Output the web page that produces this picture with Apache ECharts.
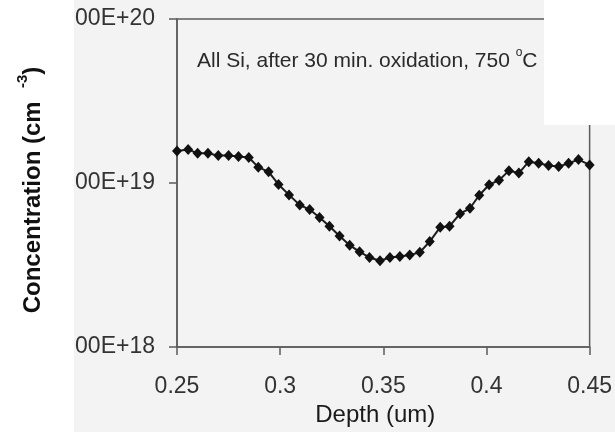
<!DOCTYPE html>
<html><head><meta charset="utf-8">
<script src="https://cdn.jsdelivr.net/npm/echarts@6/dist/echarts.min.js"></script>
<style>html,body{margin:0;padding:0;background:#fff}#c{width:615px;height:432px}</style>
</head><body><div id="c"></div>
<script>
// Depth (um) of each measured point
const depth = [0.2500, 0.2554, 0.2600, 0.2650, 0.2700, 0.2750, 0.2798, 0.2848, 0.2894, 0.2944,
               0.2992, 0.3043, 0.3095, 0.3143, 0.3191, 0.3239, 0.3288, 0.3337, 0.3385, 0.3433,
               0.3484, 0.3532, 0.3580, 0.3628, 0.3677, 0.3725, 0.3776, 0.3821, 0.3872, 0.3920,
               0.3965, 0.4013, 0.4061, 0.4109, 0.4157, 0.4205, 0.4253, 0.4301, 0.4350, 0.4398,
               0.4446, 0.4500];
// Concentration (cm^-3)
const concentration = [1.57e19, 1.60e19, 1.52e19, 1.52e19, 1.47e19, 1.47e19, 1.45e19, 1.43e19, 1.25e19, 1.17e19,
                       9.8e18, 8.47e18, 7.35e18, 6.89e18, 6.17e18, 5.46e18, 4.75e18, 4.18e18, 3.81e18, 3.52e18,
                       3.36e18, 3.52e18, 3.57e18, 3.64e18, 3.78e18, 4.40e18, 5.38e18, 5.46e18, 6.50e18, 7.02e18,
                       8.43e18, 9.77e18, 1.04e19, 1.19e19, 1.15e19, 1.35e19, 1.32e19, 1.28e19, 1.26e19, 1.32e19,
                       1.39e19, 1.29e19];
const xTickLabels = ['0.25', '0.3', '0.35', '0.4', '0.45'];
const yTickLabels = ['1.00E+18', '1.00E+19', '1.00E+20'];
const xTitle = 'Depth (um)';
const yTitle = 'Concentration (cm  {sup|-3})';
const annotation = 'All Si, after 30 min. oxidation, 750 {sup|o}C';

const FONT = "'Liberation Sans', Arial, sans-serif";
const AX = '#5c5c5c';
const chart = echarts.init(document.getElementById('c'), null, {renderer: 'canvas'});
chart.setOption({
  animation: false,
  backgroundColor: '#f3f3f3',
  grid: {left: 177, top: 19, width: 416, height: 334, show: true, borderColor: AX, borderWidth: 1.5, backgroundColor: 'transparent'},
  xAxis: {
    type: 'value', min: 0.25, max: 0.45, interval: 0.05,
    axisLine: {show: true, lineStyle: {color: AX, width: 1.5}},
    axisTick: {show: true, length: 8, lineStyle: {color: AX, width: 1.5}},
    splitLine: {show: false},
    axisLabel: {margin: 28, color: '#333', fontSize: 23, fontFamily: FONT,
      formatter: v => xTickLabels[Math.round((v - 0.25) / 0.05)]},
    name: xTitle, nameLocation: 'middle', nameGap: 53,
    nameTextStyle: {fontSize: 24, fontFamily: FONT, color: '#1a1a1a', padding: [0, 16, 0, 0]}
  },
  yAxis: {
    type: 'log', logBase: 10, min: 1e18, max: 1e20,
    axisLine: {show: true, lineStyle: {color: AX, width: 1.5}},
    axisTick: {show: true, length: 8, lineStyle: {color: AX, width: 1.5}},
    splitLine: {show: false},
    axisLabel: {margin: 22, color: '#333', fontSize: 23, fontFamily: FONT,
      formatter: v => yTickLabels[Math.round(Math.log10(v)) - 18]}
  },
  graphic: {elements: [
    {type: 'rect', z: 100, shape: {x: 0, y: 0, width: 74, height: 432}, style: {fill: '#ffffff'}},
    {type: 'rect', z: 100, shape: {x: 544, y: 0, width: 71, height: 125}, style: {fill: '#ffffff'}},
    {type: 'text', z: 101, x: 33, y: 190, rotation: Math.PI / 2,
      style: {text: yTitle, fontSize: 24, fontWeight: 'bold', fontFamily: FONT, fill: '#111', lineHeight: 36,
        align: 'center', verticalAlign: 'middle',
        rich: {sup: {fontSize: 15, fontWeight: 'bold', fontFamily: FONT, fill: '#111', lineHeight: 14, verticalAlign: 'top'}}}},
    {type: 'text', z: 101, x: 197, y: 61.5,
      style: {text: annotation, fontSize: 21, fontFamily: FONT, fill: '#2a2a2a', lineHeight: 30,
        align: 'left', verticalAlign: 'middle',
        rich: {sup: {fontSize: 12, fontFamily: FONT, fill: '#2a2a2a', lineHeight: 10, verticalAlign: 'top'}}}}
  ]},
  series: [{
    type: 'line',
    data: depth.map((d, i) => [d, concentration[i]]),
    symbol: 'diamond', symbolSize: [10, 11],
    itemStyle: {color: '#111'},
    lineStyle: {color: '#1e1e1e', width: 2},
    z: 5
  }]
});
</script></body></html>
